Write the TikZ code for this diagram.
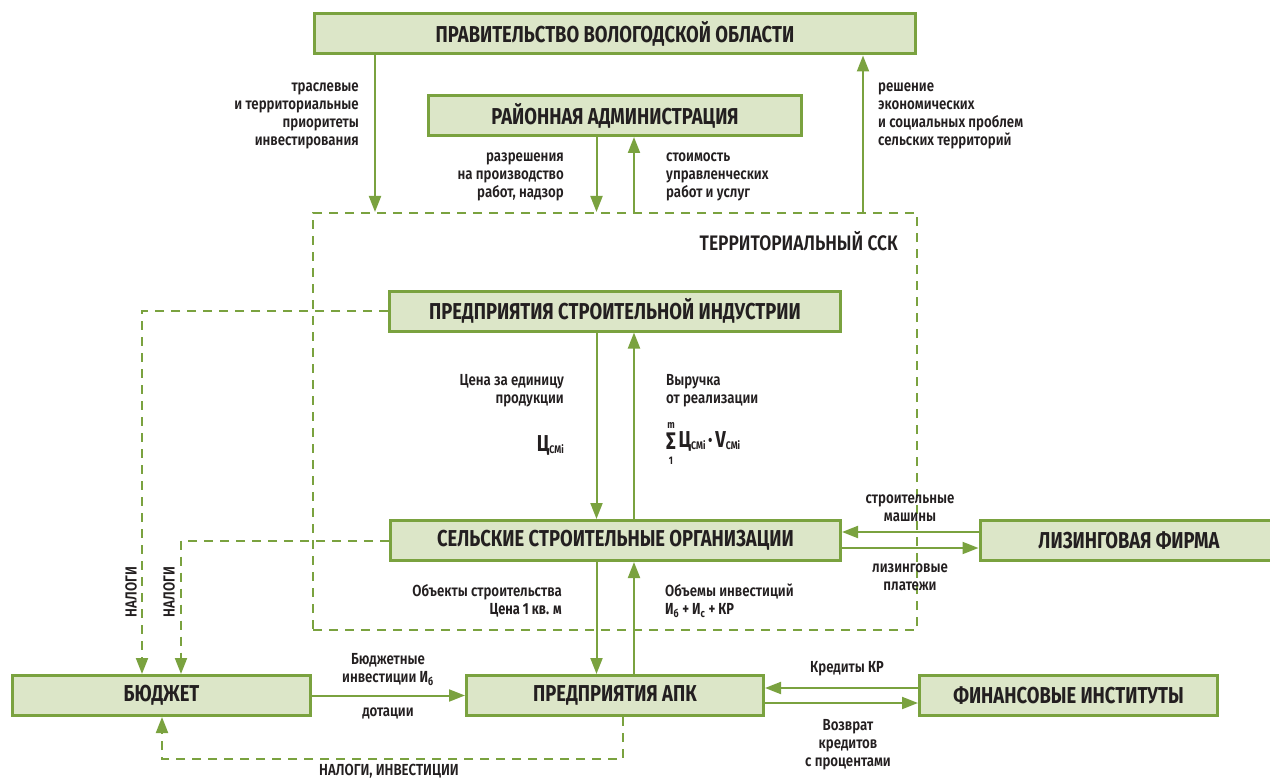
\documentclass[tikz,border=0pt]{standalone}
\usepackage{fontspec}
\setmainfont{Fira Sans}
\newfontfamily\hdfont{Fira Sans}[FakeStretch=0.8]
\newfontfamily\lbfont{Fira Sans SemiBold}[FakeStretch=0.83]
\newcommand\hl[1]{{\hdfont\bfseries #1}}
\usetikzlibrary{arrows.meta}
\usetikzlibrary{positioning}
\definecolor{ssgreen}{HTML}{7AA23F}
\definecolor{ssfill}{HTML}{DCE6C8}
\definecolor{sstext}{HTML}{231F20}

\begin{document}
\begin{tikzpicture}[x=1pt,y=-1pt,
  box/.style={draw=ssgreen,fill=ssfill,line width=3pt,minimum height=40pt,inner sep=0pt,text=sstext,font=\hdfont\bfseries\fontsize{23}{26}\selectfont},
  flow/.style={draw=ssgreen,line width=2pt,-{Triangle[length=16pt,width=12pt]}},
  tax/.style={flow,dash pattern=on 9pt off 7pt},
  note/.style={inner sep=0pt,text=sstext,font=\lbfont\fontsize{16}{18}\selectfont}]
  \useasboundingbox (0,0) rectangle (1270,781);

  \node (gov) at (615,34)[box,minimum width=601pt]{ПРАВИТЕЛЬСТВО ВОЛОГОДСКОЙ ОБЛАСТИ};
  \node (rayon) at (615,115.5)[box,minimum width=373pt]{РАЙОННАЯ АДМИНИСТРАЦИЯ};
  \node (ssk) at (615,421.5)[draw=ssgreen,line width=2pt,dash pattern=on 9pt off 7pt,minimum width=604pt,minimum height=417pt]{};
  \node (sskname) at (898,241)[note,anchor=east,font=\lbfont\fontsize{21}{24}\selectfont]{ТЕРРИТОРИАЛЬНЫЙ ССК};
  \node (ind) at (615,311)[box,minimum width=451pt]{ПРЕДПРИЯТИЯ СТРОИТЕЛЬНОЙ ИНДУСТРИИ};
  \node (sso) at (615.5,540.5)[box,minimum width=450pt]{СЕЛЬСКИЕ СТРОИТЕЛЬНЫЕ ОРГАНИЗАЦИИ};
  \node (liz) at (1129,540.5)[box,minimum width=298pt]{ЛИЗИНГОВАЯ ФИРМА};
  \node (bud) at (161.5,695.5)[box,minimum width=298pt]{БЮДЖЕТ};
  \node (apk) at (615,695.5)[box,minimum width=297pt]{ПРЕДПРИЯТИЯ АПК};
  \node (fin) at (1068.5,695.5)[box,minimum width=298pt]{ФИНАНСОВЫЕ ИНСТИТУТЫ};

  % lanes
  \coordinate (lw) at (375,0);
  \coordinate (dn) at (596.5,0);
  \coordinate (upl) at (634,0);
  \coordinate (rw) at (863,0);
  \coordinate (lz1) at (0,532);
  \coordinate (lz2) at (0,548);
  \coordinate (fc1) at (0,688);
  \coordinate (fc2) at (0,703);
  \coordinate (tx1) at (142,0);
  \coordinate (tx2) at (181,0);
  \coordinate (tx4) at (162,0);
  \coordinate (tb) at (623,759);

  \draw[flow](gov.south -| lw)--(ssk.north -| lw);
  \draw[flow](rayon.south -| dn)--(ssk.north -| dn);
  \draw[flow](ssk.north -| upl)--(rayon.south -| upl);
  \draw[flow](ssk.north -| rw)--(gov.south -| rw);
  \draw[flow](ind.south -| dn)--(sso.north -| dn);
  \draw[flow](sso.north -| upl)--(ind.south -| upl);
  \draw[flow](sso.south -| dn)--(apk.north -| dn);
  \draw[flow](apk.north -| upl)--(sso.south -| upl);
  \draw[flow](liz.west |- lz1)--(sso.east |- lz1);
  \draw[flow](sso.east |- lz2)--(liz.west |- lz2);
  \draw[flow](fin.west |- fc1)--(apk.east |- fc1);
  \draw[flow](apk.east |- fc2)--(fin.west |- fc2);
  \draw[flow](bud.east)--(apk.west);

  \draw[tax](ind.west) -| (bud.north -| tx1);
  \draw[tax](sso.west) -| (bud.north -| tx2);
  \draw[tax](apk.south -| tb)--(tb) -| (bud.south -| tx4);

  \node (prior) at (359,115.5)[note,anchor=east,align=right]{траслевые\\и территориальные\\приоритеты\\инвестирования};
  \node (razr) at (564,177)[note,anchor=east,align=right]{разрешения\\на производство\\работ, надзор};
  \node (stoim) at (666,177)[note,anchor=west,align=left]{стоимость\\управленческих\\работ и услуг};
  \node (resh) at (878,115.5)[note,anchor=west,align=left]{решение\\экономических\\и социальных проблем\\сельских территорий};
  \node (cena) at (564,390.5)[note,anchor=east,align=right]{Цена за единицу\\продукции};
  \node (csm) at (564,445)[note,anchor=east]{\hl{{\fontsize{23}{23}\selectfont Ц}\raisebox{-2pt}{\fontsize{11}{11}\selectfont СМi}}};
  \node (vyr) at (666,390.5)[note,anchor=west,align=left]{Выручка\\от реализации};
  \node (sum) at (666,443)[note,anchor=west]{\hl{\begin{tabular}{@{}c@{}}{\fontsize{11}{11}\selectfont m}\\[-1pt]{\fontsize{24}{24}\selectfont Σ}\\[-3pt]{\fontsize{11}{11}\selectfont 1}\end{tabular}\,{\fontsize{23}{23}\selectfont Ц}\raisebox{-2pt}{\fontsize{11}{11}\selectfont СМi}\,{\fontsize{23}{23}\selectfont ·}\,{\fontsize{23}{23}\selectfont V}\raisebox{-2pt}{\fontsize{11}{11}\selectfont СМi}}};
  \node (mash) at (910,508)[note,align=center]{строительные\\машины};
  \node (plat) at (910,577)[note,align=center]{лизинговые\\платежи};
  \node (obj) at (562,601)[note,anchor=east,align=right]{Объекты строительства\\\hl{Цена 1 кв. м}};
  \node (obem) at (665,601)[note,anchor=west,align=left]{Объемы инвестиций\\\hl{И\textsubscript{б} + И\textsubscript{с} + КР}};
  \node (budinv) at (388,669.5)[note,align=center]{Бюджетные\\инвестиции \hl{И\textsubscript{б}}};
  \node (dot) at (388,713)[note]{дотации};
  \node (nal1) at (131,592)[note,rotate=90]{НАЛОГИ};
  \node (nal2) at (169,592)[note,rotate=90]{НАЛОГИ};
  \node (nalinv) at (389,771)[note]{НАЛОГИ, ИНВЕСТИЦИИ};
  \node (kred) at (847,669)[note]{Кредиты \hl{КР}};
  \node (vozv) at (848,744.5)[note,align=center]{Возврат\\кредитов\\с процентами};
\end{tikzpicture}
\end{document}
